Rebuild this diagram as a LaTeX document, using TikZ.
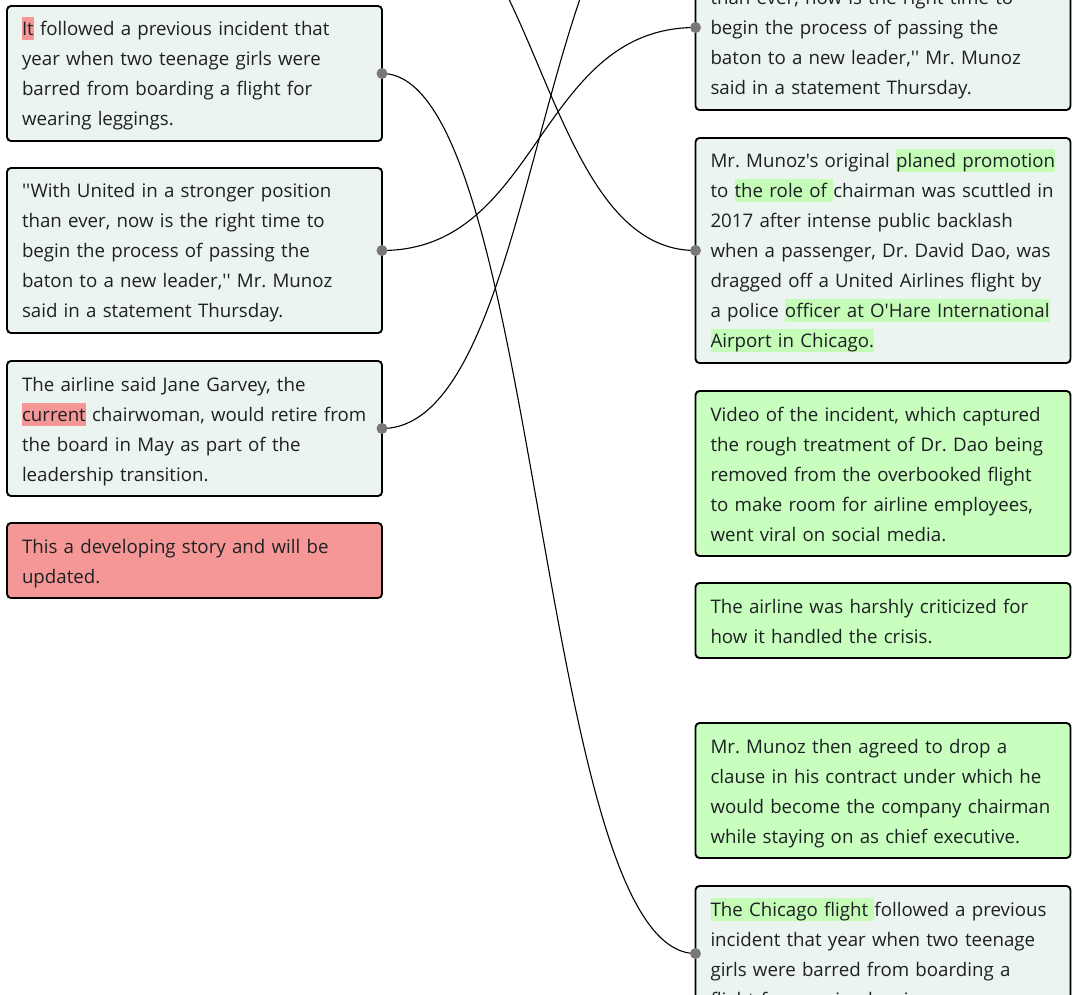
\documentclass[tikz,border=0pt]{standalone}
\usepackage{fontspec}
\setmainfont{Open Sans}[Ligatures=TeXOff]

\definecolor{boxfill}{RGB}{236,244,239}
\definecolor{goodfill}{RGB}{200,255,190}
\definecolor{badfill}{RGB}{245,151,151}
\definecolor{goodmark}{RGB}{196,252,184}
\definecolor{dotgray}{RGB}{120,120,120}
\definecolor{inkcolor}{RGB}{30,33,36}

\newlength{\du}
\setlength{\du}{1pt}

% first line: no wrapping of the hand-broken lines, fixed line height
\newcommand{\firstln}{\rightskip=-30\du plus 1fil\hyphenpenalty=10000\rule{0pt}{22.5\du}}
\newcommand{\lastln}{\rule[-7.5\du]{0pt}{7.5\du}}
\newcommand{\markbad}[1]{{\setlength{\fboxsep}{0pt}\colorbox{badfill}{\rule[-4.5\du]{0pt}{23\du}#1}}}
\newcommand{\markok}[1]{{\setlength{\fboxsep}{0pt}\colorbox{goodmark}{\rule[-4.5\du]{0pt}{23\du}#1}}}

\tikzset{
  sentence/.style={draw=black, line width=1.9\du, rounded corners=4\du, fill=boxfill,
    text=inkcolor, anchor=north west, inner xsep=15\du, inner ysep=7.5\du, outer sep=0pt,
    text width=345\du, align=left, font=\fontsize{18.7}{30}\selectfont\frenchspacing},
  kept/.style={sentence, fill=goodfill},
  dropped/.style={sentence, fill=badfill},
  link/.style={draw=black, line width=1.1\du},
  port/.style={fill=dotgray}
}

\begin{document}
\begin{tikzpicture}
\pgftransformxscale{1.000000}
\pgftransformyscale{-1.000000}
\useasboundingbox (0\du,0\du) rectangle (1079\du,995\du);
\clip (0\du,0\du) rectangle (1079\du,995\du);
% left column
\node[sentence] (L1) at (7\du,6\du){\firstln\markbad{It} followed a previous incident that\\year when two teenage girls were\\barred from boarding a flight for\\wearing leggings.\lastln};
\node[sentence] (L2) at (7\du,168\du){\firstln''With United in a stronger position\\than ever, now is the right time to\\begin the process of passing the\\baton to a new leader,'' Mr. Munoz\\said in a statement Thursday.\lastln};
\node[sentence] (L3) at (7\du,361\du){\firstln The airline said Jane Garvey, the\\\markbad{current} chairwoman, would retire from\\the board in May as part of the\\leadership transition.\lastln};
\node[dropped] (L4) at (7\du,523\du){\firstln This a developing story and will be\\updated.\lastln};
% right column
\node[sentence] (R1) at (695.5\du,-55\du){\firstln''With United in a stronger position\\than ever, now is the right time to\\begin the process of passing the\\baton to a new leader,'' Mr. Munoz\\said in a statement Thursday.\lastln};
\node[sentence] (R2) at (695.5\du,138\du){\firstln Mr. Munoz's original \markok{planed promotion}\\to \markok{the role of }chairman was scuttled in\\2017 after intense public backlash\\when a passenger, Dr. David Dao, was\\dragged off a United Airlines flight by\\a police \markok{officer at O'Hare International}\\\markok{Airport in Chicago.}\lastln};
\node[kept] (R3) at (695.5\du,391\du){\firstln Video of the incident, which captured\\the rough treatment of Dr. Dao being\\removed from the overbooked flight\\to make room for airline employees,\\went viral on social media.\lastln};
\node[kept] (R4) at (695.5\du,583\du){\firstln The airline was harshly criticized for\\how it handled the crisis.\lastln};
\node[kept] (R5) at (695.5\du,723\du){\firstln Mr. Munoz then agreed to drop a\\clause in his contract under which he\\would become the company chairman\\while staying on as chief executive.\lastln};
\node[sentence] (R6) at (695.5\du,886\du){\firstln\markok{The Chicago flight }followed a previous\\incident that year when two teenage\\girls were barred from boarding a\\flight for wearing leggings.\lastln};
% ends of links above the frame
\coordinate (L0) at (382\du,-117\du);
\coordinate (R0) at (695.5\du,-148\du);
% links
\draw[link] (L1.east) .. controls +(158\du,0\du) and +(-158\du,0\du) .. (R6.west);
\draw[link] (L2.east) .. controls +(158\du,0\du) and +(-158\du,0\du) .. (R1.west);
\draw[link] (L3.east) .. controls +(158\du,0\du) and +(-158\du,0\du) .. (R0);
\draw[link] (L0) .. controls +(158\du,0\du) and +(-158\du,0\du) .. (R2.west);
\fill[port] (L1.east) circle (5.5\du);
\fill[port] (L2.east) circle (5.5\du);
\fill[port] (L3.east) circle (5.5\du);
\fill[port] (R1.west) circle (5.5\du);
\fill[port] (R2.west) circle (5.5\du);
\fill[port] (R6.west) circle (5.5\du);
\end{tikzpicture}
\end{document}
